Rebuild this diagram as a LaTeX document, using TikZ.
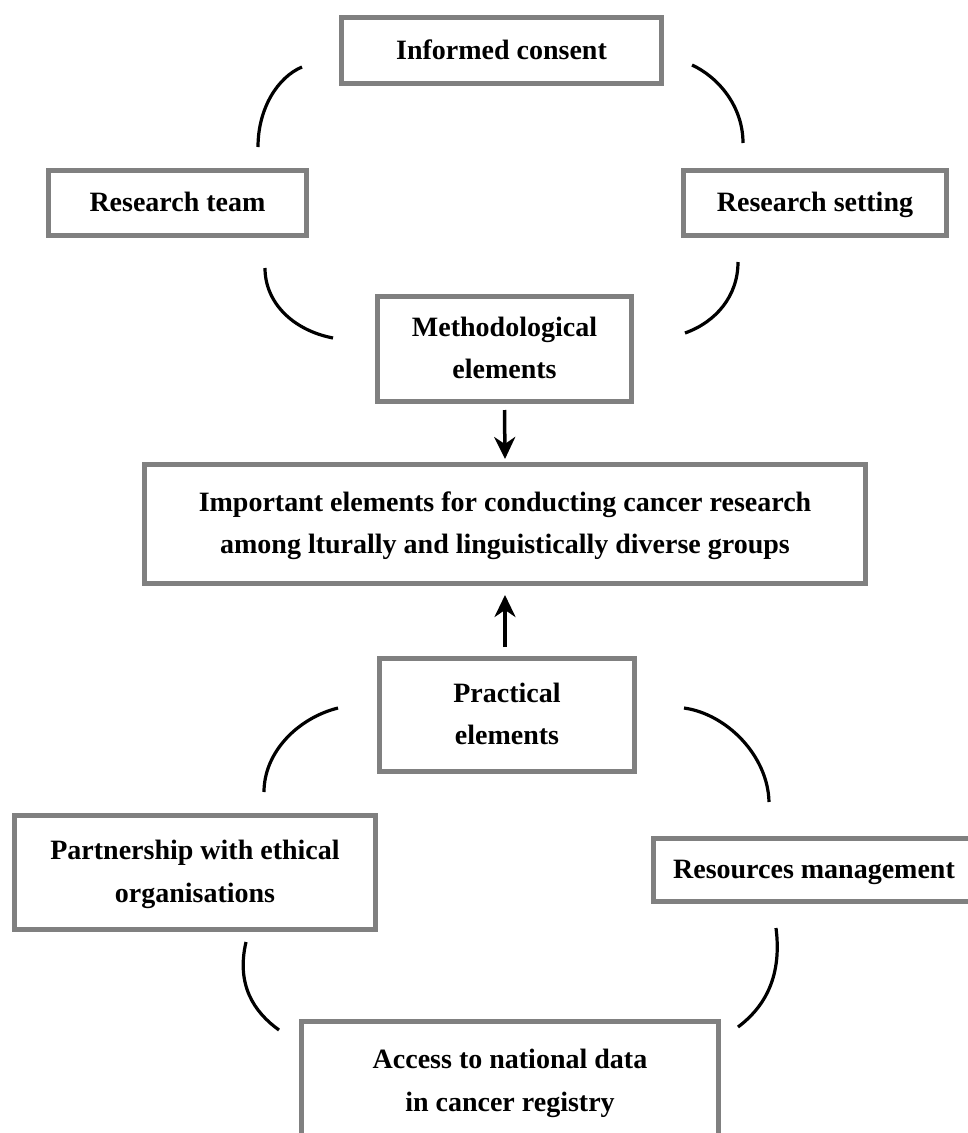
\documentclass[tikz,border=0pt]{standalone}
\usepackage{fontspec}
\setmainfont{Liberation Serif}
\usetikzlibrary{arrows.meta}
\definecolor{boxgray}{RGB}{128,128,128}
\tikzset{
  elbox/.style={draw=boxgray, line width=5pt, fill=white, inner sep=0pt, align=center,
    font=\fontsize{28}{42.5}\selectfont\bfseries},
  arcline/.style={line width=3.2pt, black},
  flowarrow/.style={line width=3.5pt, -{Stealth[length=22pt,width=21pt,inset=7pt]}}
}
\begin{document}
\begin{tikzpicture}[x=1pt,y=-1pt]
\useasboundingbox (0,0) rectangle (968,1133);
\clip (0,0) rectangle (968,1133);
% boxes
\node[elbox, minimum width=320pt, minimum height=66pt] (ic) at (501.5,50.5) {\strut Informed consent\strut};
\node[elbox, minimum width=258pt, minimum height=65pt] (rt) at (177.5,203) {\strut Research team\strut};
\node[elbox, minimum width=263pt, minimum height=65pt] (rs) at (815,203) {\strut Research setting\strut};
\node[elbox, minimum width=254pt, minimum height=105pt] (meth) at (504.5,349) {\strut Methodological\\elements\strut};
\node[elbox, minimum width=721pt, minimum height=119pt] (main) at (505,524) {\strut Important elements for conducting cancer research\\among lturally and linguistically diverse groups\strut};
\node[elbox, minimum width=255pt, minimum height=113pt] (prac) at (507,715) {\strut Practical\\elements\strut};
\node[elbox, minimum width=361pt, minimum height=114pt] (part) at (195,872.5) {\strut Partnership with ethical\\organisations\strut};
\node[elbox, minimum width=321pt, minimum height=63pt] (res) at (814,870) {\strut Resources management\strut};
\node[elbox, minimum width=417pt, minimum height=120pt] (acc) at (510,1081.5) {\strut Access to national data\\in cancer registry\strut};
% arc end points
\coordinate (a1s) at (302,67);  \coordinate (a1e) at (258,147);
\coordinate (a2s) at (692,65);  \coordinate (a2e) at (743,143);
\coordinate (a3s) at (265,268); \coordinate (a3e) at (333,338);
\coordinate (a4s) at (738,262); \coordinate (a4e) at (685,333);
\coordinate (b1s) at (338,708); \coordinate (b1e) at (264,792);
\coordinate (b2s) at (684,708); \coordinate (b2e) at (769,802);
\coordinate (b3s) at (246,942); \coordinate (b3e) at (279,1030);
\coordinate (b4s) at (776,928); \coordinate (b4e) at (738,1027);
% arcs
\draw[arcline] (a1s) .. controls (278,77) and (258,108) .. (a1e);
\draw[arcline] (a2s) .. controls (718,77) and (743,106) .. (a2e);
\draw[arcline] (a3s) .. controls (265,302) and (292,330) .. (a3e);
\draw[arcline] (a4s) .. controls (738,296) and (716,322) .. (a4e);
\draw[arcline] (b1s) .. controls (298,718) and (264,752) .. (b1e);
\draw[arcline] (b2s) .. controls (727,714) and (768,756) .. (b2e);
\draw[arcline] (b3s) .. controls (236,985) and (254,1012) .. (b3e);
\draw[arcline] (b4s) .. controls (782,975) and (766,1006) .. (b4e);
% arrows
\draw[flowarrow] ([yshift=-6pt]meth.south) -- ([yshift=3pt]main.north);
\draw[flowarrow] ([yshift=9pt]prac.north -| main.south) -- ([yshift=-9pt]main.south);
\end{tikzpicture}
\end{document}
